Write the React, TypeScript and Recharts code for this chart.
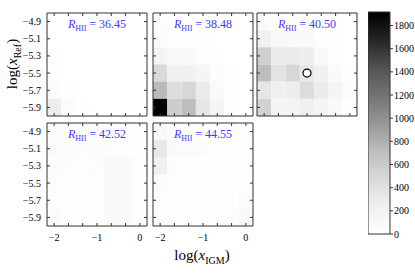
import React from 'react';
import { ScatterChart, Scatter, XAxis, YAxis, ReferenceArea } from 'recharts';

// bin centres
const xCenters = [-2, -1.667, -1.333, -1, -0.667, -0.333, 0];
const yCenters = [-4.9, -5.1, -5.3, -5.5, -5.7, -5.9];
const cbTicks = [0, 200, 400, 600, 800, 1000, 1200, 1400, 1600, 1800];
const vMax = 1917;

// counts, rows from -4.9 (top) to -5.9 (bottom), columns from -2 to 0
const counts3645 = [
  [0, 0, 0, 0, 0, 0, 0],
  [5, 0, 0, 0, 0, 0, 0],
  [10, 5, 0, 0, 0, 0, 0],
  [20, 5, 0, 0, 0, 0, 0],
  [55, 15, 5, 0, 0, 0, 0],
  [270, 65, 10, 0, 0, 0, 0],
];
const counts3848 = [
  [40, 10, 5, 0, 0, 0, 0],
  [60, 30, 20, 10, 0, 0, 0],
  [170, 90, 80, 30, 10, 0, 0],
  [480, 240, 240, 160, 40, 10, 0],
  [740, 450, 500, 290, 80, 10, 0],
  [1900, 580, 720, 330, 160, 20, 0],
];
const counts4050 = [
  [80, 50, 40, 30, 10, 0, 0],
  [240, 110, 95, 80, 30, 10, 0],
  [575, 290, 290, 260, 95, 20, 0],
  [715, 380, 500, 320, 240, 80, 10],
  [340, 240, 260, 450, 290, 160, 50],
  [540, 160, 180, 240, 160, 80, 20],
];
const counts4252 = [
  [70, 40, 30, 30, 30, 20, 10],
  [80, 60, 50, 50, 50, 30, 10],
  [50, 50, 30, 50, 100, 80, 30],
  [50, 30, 15, 30, 90, 90, 15],
  [15, 15, 15, 20, 80, 110, 30],
  [60, 15, 15, 15, 80, 80, 15],
];
const counts4455 = [
  [95, 30, 20, 20, 20, 15, 10],
  [320, 80, 60, 40, 30, 20, 10],
  [240, 50, 30, 20, 20, 20, 10],
  [65, 15, 10, 10, 10, 10, 15],
  [30, 10, 10, 10, 10, 20, 60],
  [50, 10, 10, 10, 10, 30, 80],
];
const markerPoint = [{ x: -1, y: -5.5 }];

// matplotlib "Greys"
const greyLevels = [255, 240, 217, 189, 150, 115, 82, 37, 0];
const greys = (f: number) => {
  const t = Math.max(0, Math.min(1, f)) * (greyLevels.length - 1);
  const i = Math.min(Math.floor(t), greyLevels.length - 2);
  const g = Math.round(greyLevels[i] + (greyLevels[i + 1] - greyLevels[i]) * (t - i));
  return `rgb(${g},${g},${g})`;
};

const FONT = '"Liberation Serif", "DejaVu Serif", serif';
const cw = 1 / 3;
const ch = 0.2;
const xDomain = [xCenters[0] - cw / 2, xCenters[6] + cw / 2];
const yDomain = [yCenters[5] - ch / 2, yCenters[0] + ch / 2];
const fmtMinus = (s: string) => s.replace('-', '\u2212');

const PW = 100;
const PH = 103;
const AL = 40; // left axis width
const AT = 5;
const AR = 5;
const AB = 25;

function Panel({ counts, label, left, top, xLabels, yLabels, marker }: any) {
  const tickStyle = { fontFamily: FONT, fontSize: 10, fill: '#000' };
  const centres = counts.flatMap((row: number[], i: number) =>
    row.map((v: number, j: number) => ({ x: xCenters[j], y: yCenters[i], v }))
  );
  return (
    <div style={{ position: 'absolute', left: left - AL, top: top - AT }}>
      <ScatterChart width={AL + PW + AR} height={AT + PH + AB} margin={{ top: 0, right: 0, bottom: 0, left: 0 }}>
        {centres.map((c: any, k: number) => (
          <ReferenceArea
            key={k}
            xAxisId="b"
            yAxisId="l"
            x1={c.x - cw / 2}
            x2={c.x + cw / 2}
            y1={c.y - ch / 2}
            y2={c.y + ch / 2}
            fill={greys(c.v / vMax)}
            fillOpacity={1}
            stroke="none"
          />
        ))}
        <XAxis
          xAxisId="b"
          type="number"
          dataKey="x"
          domain={xDomain}
          ticks={xCenters}
          interval={0}
          height={AB}
          tickSize={-3}
          tickMargin={11}
          stroke="#333"
          tick={tickStyle}
          tickFormatter={(v: number) =>
            xLabels && Math.abs(v - Math.round(v)) < 0.01 ? fmtMinus(String(Math.round(v))) : ''
          }
        />
        <XAxis
          xAxisId="t"
          orientation="top"
          type="number"
          dataKey="x"
          domain={xDomain}
          ticks={xCenters}
          interval={0}
          height={AT}
          tickSize={-3}
          stroke="#333"
          tickFormatter={() => ''}
        />
        <YAxis
          yAxisId="l"
          type="number"
          dataKey="y"
          domain={yDomain}
          ticks={yCenters}
          interval={0}
          width={AL}
          tickSize={-3}
          tickMargin={9}
          stroke="#333"
          tick={tickStyle}
          tickFormatter={(v: number) => (yLabels ? fmtMinus(v.toFixed(1)) : '')}
        />
        <YAxis
          yAxisId="r"
          orientation="right"
          type="number"
          dataKey="y"
          domain={yDomain}
          ticks={yCenters}
          interval={0}
          width={AR}
          tickSize={-3}
          stroke="#333"
          tickFormatter={() => ''}
        />
        <Scatter xAxisId="b" yAxisId="l" data={centres} isAnimationActive={false} shape={() => <g />} />
        <Scatter xAxisId="t" yAxisId="r" data={centres} isAnimationActive={false} shape={() => <g />} />
        {marker && (
          <Scatter
            xAxisId="b"
            yAxisId="l"
            data={markerPoint}
            isAnimationActive={false}
            shape={(p: any) => <circle cx={p.cx} cy={p.cy} r={4} fill="#fff" stroke="#000" strokeWidth={1.2} />}
          />
        )}
      </ScatterChart>
      <div
        style={{
          position: 'absolute',
          left: AL,
          top: AT + 4,
          width: PW,
          textAlign: 'center',
          fontFamily: FONT,
          fontSize: 12,
          color: '#3c3cff',
          whiteSpace: 'nowrap',
        }}
      >
        <i>R</i>
        <span style={{ fontSize: 8, position: 'relative', top: 3 }}>HII</span> = {label}
      </div>
    </div>
  );
}

function ColorBar() {
  const cbW = 22;
  const cbH = 222;
  const pad = 8;
  const tickData = cbTicks.map((t) => ({ x: 0.5, y: t }));
  return (
    <div style={{ position: 'absolute', left: 368, top: 12 - pad }}>
      <ScatterChart width={cbW + 34} height={cbH + 2 * pad} margin={{ top: pad, right: 0, bottom: pad, left: 0 }}>
        <defs>
          <linearGradient id="cbGrad" x1="0" y1="1" x2="0" y2="0">
            {greyLevels.map((g, i) => (
              <stop key={i} offset={i / (greyLevels.length - 1)} stopColor={`rgb(${g},${g},${g})`} />
            ))}
          </linearGradient>
        </defs>
        <XAxis xAxisId="c" type="number" dataKey="x" domain={[0, 1]} hide />
        <YAxis
          yAxisId="c"
          orientation="right"
          type="number"
          dataKey="y"
          domain={[0, vMax]}
          ticks={cbTicks}
          interval={0}
          width={34}
          axisLine={false}
          tickSize={3}
          tickMargin={1}
          stroke="#333"
          tick={{ fontFamily: FONT, fontSize: 10, fill: '#000' }}
        />
        <ReferenceArea
          xAxisId="c"
          yAxisId="c"
          x1={0}
          x2={1}
          y1={0}
          y2={vMax}
          fill="url(#cbGrad)"
          fillOpacity={1}
          stroke="#333"
          strokeWidth={1}
        />
        <Scatter xAxisId="c" yAxisId="c" data={tickData} isAnimationActive={false} shape={() => <g />} />
      </ScatterChart>
    </div>
  );
}

export default function App() {
  return (
    <div style={{ position: 'absolute', left: 0, top: 0, width: 415, height: 277, background: '#fff', overflow: 'hidden' }}>
      <Panel counts={counts3645} label="36.45" left={47} top={13} yLabels />
      <Panel counts={counts3848} label="38.48" left={153} top={13} />
      <Panel counts={counts4050} label="40.50" left={257} top={13} marker />
      <Panel counts={counts4252} label="42.52" left={47} top={123} xLabels yLabels />
      <Panel counts={counts4455} label="44.55" left={153} top={123} xLabels />
      <ColorBar />
      <div
        style={{
          position: 'absolute',
          left: 12,
          top: 64,
          transform: 'translate(-50%, -50%) rotate(-90deg)',
          fontFamily: FONT,
          fontSize: 15,
          whiteSpace: 'nowrap',
        }}
      >
        log(<i>x</i>
        <span style={{ fontSize: 10, position: 'relative', top: 4 }}>Ref</span>)
      </div>
      <div
        style={{
          position: 'absolute',
          left: 202,
          top: 255,
          transform: 'translate(-50%, -50%)',
          fontFamily: FONT,
          fontSize: 15,
          whiteSpace: 'nowrap',
        }}
      >
        log(<i>x</i>
        <span style={{ fontSize: 10, position: 'relative', top: 4 }}>IGM</span>)
      </div>
    </div>
  );
}
